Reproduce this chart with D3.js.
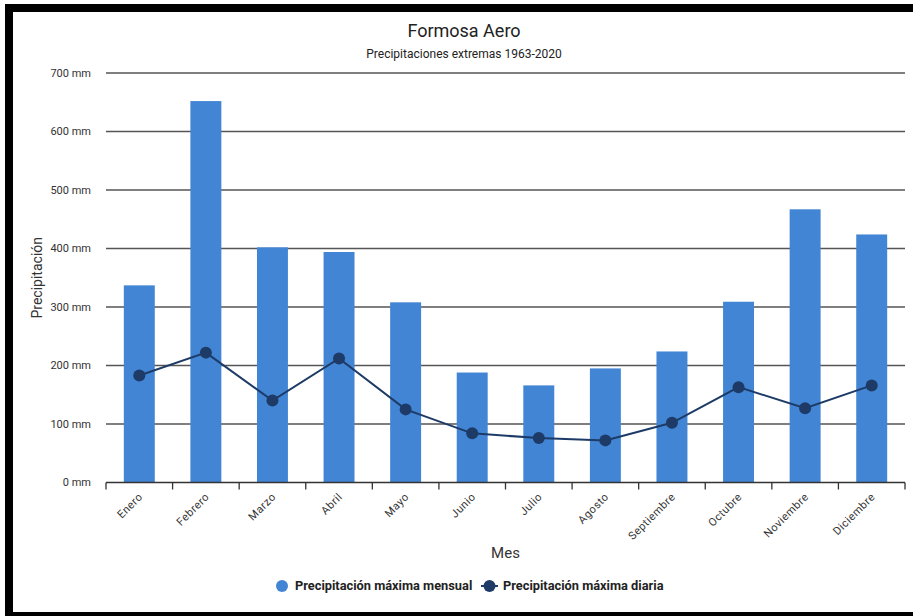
<!DOCTYPE html>
<html>
<head>
<meta charset="utf-8">
<script src="https://cdn.jsdelivr.net/npm/d3@7"></script>
<style>
  html, body { margin: 0; padding: 0; background: #fff; }
  svg { display: block; font-family: Roboto, "Noto Sans", sans-serif; }
</style>
</head>
<body>
<svg id="chart" width="913" height="616"></svg>
<script>
const months = ["Enero","Febrero","Marzo","Abril","Mayo","Junio","Julio","Agosto","Septiembre","Octubre","Noviembre","Diciembre"];
const maxMensual = [337, 652, 402, 394, 308, 188, 166, 195, 224, 309, 467, 424];
const maxDiaria = [183, 222, 140, 212, 125, 84, 76, 72, 102, 163, 127, 166];
const yTicks = [0, 100, 200, 300, 400, 500, 600, 700];
const title = "Formosa Aero";
const subtitle = "Precipitaciones extremas 1963-2020";
const yTitle = "Precipitación";
const xTitle = "Mes";
const seriesNames = ["Precipitación máxima mensual", "Precipitación máxima diaria"];

const barColor = "#4285d5";
const lineColor = "#1d3b66";

const svg = d3.select("#chart");
const W = 913, H = 616;
const m = {left: 106, right: 8, top: 73, bottom: 133.5};

// frame
svg.append("rect").attr("x", 0).attr("y", 0).attr("width", W).attr("height", H).attr("fill", "#fff");
svg.append("rect").attr("x", 5).attr("y", 4).attr("width", W - 5).attr("height", 8).attr("fill", "#000");
svg.append("rect").attr("x", 5).attr("y", 4).attr("width", 8).attr("height", H - 4).attr("fill", "#000");
svg.append("rect").attr("x", 5).attr("y", 612).attr("width", W - 5).attr("height", 4).attr("fill", "#000");

const x = d3.scaleBand().domain(months).range([m.left, W - m.right]).paddingInner(0.535).paddingOuter(0.2675);
const xb = d3.scaleBand().domain(months).range([m.left, W - m.right]).padding(0);
const y = d3.scaleLinear().domain([0, 700]).range([H - m.bottom, m.top]);

// gridlines
svg.append("g").selectAll("line").data(yTicks.filter(d => d > 0)).join("line")
  .attr("x1", m.left).attr("x2", W - m.right)
  .attr("y1", d => y(d)).attr("y2", d => y(d))
  .attr("stroke", "#555").attr("stroke-width", 1.3);

// y labels
svg.append("g").selectAll("text").data(yTicks).join("text")
  .attr("x", 91).attr("y", d => y(d)).attr("dy", "0.35em")
  .attr("text-anchor", "end").attr("font-size", 11).attr("fill", "#333")
  .text(d => d + " mm");

// bars
svg.append("g").selectAll("rect").data(maxMensual).join("rect")
  .attr("x", (d, i) => x(months[i])).attr("width", x.bandwidth())
  .attr("y", d => y(d)).attr("height", d => y(0) - y(d))
  .attr("fill", barColor);

// x axis
const gx = svg.append("g").attr("transform", `translate(0,${y(0)})`);
gx.append("line").attr("x1", m.left).attr("x2", W - m.right).attr("y1", 0).attr("y2", 0)
  .attr("stroke", "#333").attr("stroke-width", 1.3);
const bounds = months.map(mm => xb(mm)).concat([xb(months[months.length - 1]) + xb.bandwidth()]);
gx.selectAll("line.tk").data(bounds).join("line").attr("class", "tk")
  .attr("x1", d => d).attr("x2", d => d).attr("y1", 0).attr("y2", 7)
  .attr("stroke", "#333").attr("stroke-width", 1.3);
gx.selectAll("text").data(months).join("text")
  .attr("transform", d => `translate(${xb(d) + xb.bandwidth() / 2 + 4},${15}) rotate(-45)`)
  .attr("text-anchor", "end").attr("font-size", 11).attr("fill", "#333")
  .attr("letter-spacing", 0.5)
  .text(d => d);

// line
const line = d3.line().x((d, i) => x(months[i]) + x.bandwidth() / 2).y(d => y(d));
svg.append("path").datum(maxDiaria).attr("d", line)
  .attr("fill", "none").attr("stroke", lineColor).attr("stroke-width", 2);
svg.append("g").selectAll("circle").data(maxDiaria).join("circle")
  .attr("cx", (d, i) => x(months[i]) + x.bandwidth() / 2).attr("cy", d => y(d))
  .attr("r", 6).attr("fill", lineColor);

// titles
svg.append("text").attr("x", 464).attr("y", 36.5).attr("text-anchor", "middle")
  .attr("font-size", 18).attr("fill", "#222").text(title);
svg.append("text").attr("x", 464).attr("y", 58).attr("text-anchor", "middle")
  .attr("font-size", 12).attr("fill", "#222").text(subtitle);
svg.append("text").attr("transform", `translate(42,${(y(0) + y(700)) / 2}) rotate(-90)`)
  .attr("text-anchor", "middle").attr("font-size", 14).attr("fill", "#333").text(yTitle);
svg.append("text").attr("x", (m.left + W - m.right) / 2).attr("y", 558).attr("text-anchor", "middle")
  .attr("font-size", 15).attr("fill", "#333").text(xTitle);

// legend
const lg = svg.append("g").attr("transform", "translate(0,586)");
lg.append("circle").attr("cx", 282).attr("cy", 0).attr("r", 6).attr("fill", barColor);
lg.append("text").attr("x", 295).attr("y", 0).attr("dy", "0.35em").attr("font-size", 12.8)
  .attr("font-weight", "bold").attr("fill", "#222").text(seriesNames[0]);
lg.append("line").attr("x1", 481).attr("x2", 498).attr("y1", 0).attr("y2", 0)
  .attr("stroke", lineColor).attr("stroke-width", 2);
lg.append("circle").attr("cx", 489.5).attr("cy", 0).attr("r", 6).attr("fill", lineColor);
lg.append("text").attr("x", 503).attr("y", 0).attr("dy", "0.35em").attr("font-size", 12.8)
  .attr("font-weight", "bold").attr("fill", "#222").text(seriesNames[1]);
</script>
</body>
</html>
